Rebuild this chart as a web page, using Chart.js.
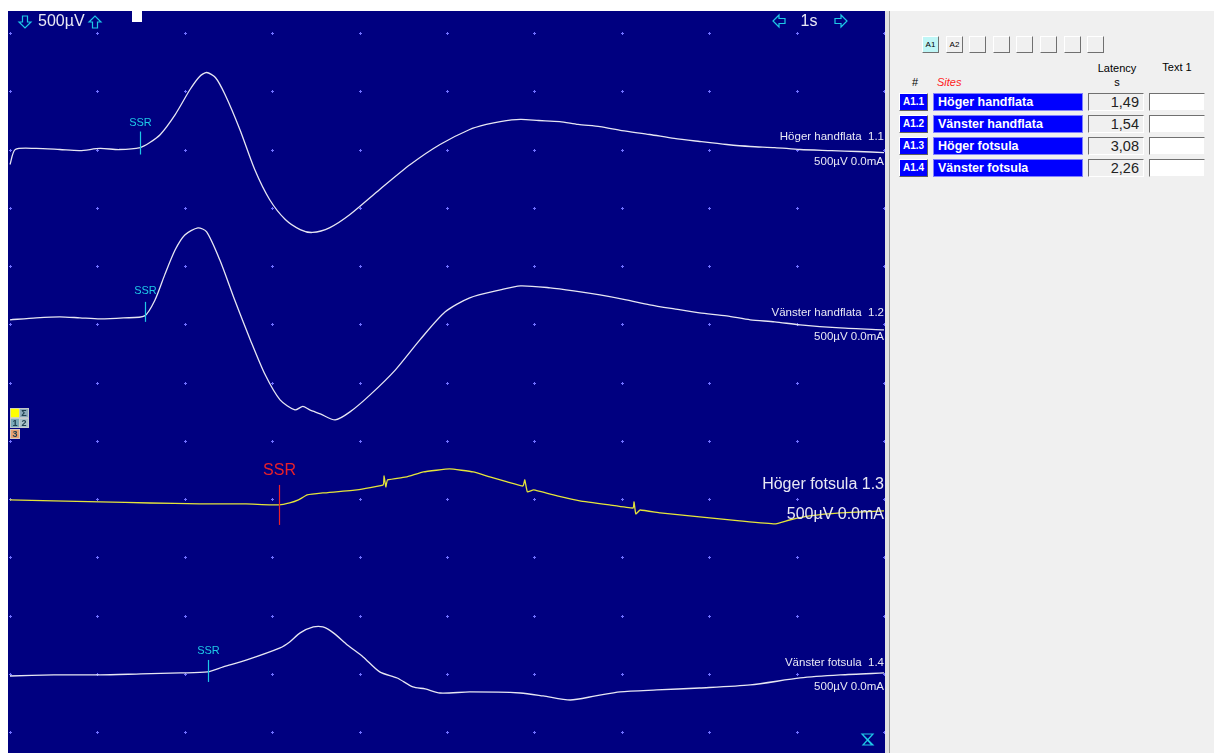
<!DOCTYPE html>
<html><head><meta charset="utf-8">
<script src="https://cdn.jsdelivr.net/npm/chart.js@4"></script>
<style>
html,body{margin:0;padding:0;background:#fff;width:1214px;height:753px;overflow:hidden;font-family:"Liberation Sans",Arial,sans-serif;}
#scope{position:absolute;left:8px;top:11px;width:877px;height:742px;background:#000080;}
#sep{position:absolute;left:885px;top:11px;width:4px;height:742px;background:#e2e2e2;}
#sep2{position:absolute;left:889px;top:11px;width:1px;height:742px;background:#9a9a9a;}
#panel{position:absolute;left:890px;top:11px;width:324px;height:742px;background:#f0f0f0;}
.btn{position:absolute;width:17px;height:17px;box-sizing:border-box;border:1px solid #fff;border-right-color:#707070;border-bottom-color:#707070;background:#f0f0f0;font-size:8px;line-height:15px;text-align:center;color:#000;}
.hdr{position:absolute;font-size:11px;color:#000;text-align:center;}
.rid{position:absolute;left:9px;width:29px;height:18px;box-sizing:border-box;background:#0000ff;color:#fff;font-weight:bold;font-size:10px;line-height:16px;text-align:center;border:1px solid #fff;border-right-color:#606060;border-bottom-color:#606060;}
.rname{position:absolute;left:43px;width:150px;height:18px;box-sizing:border-box;background:#0000ff;color:#fff;font-weight:bold;font-size:12.5px;line-height:17px;padding-left:4px;border:1px solid #8080ff;}
.rlat{position:absolute;left:198px;width:56px;height:18px;box-sizing:border-box;background:#f0f0f0;color:#222;font-size:14.5px;line-height:17px;text-align:right;padding-right:4px;border:1px solid #fff;border-left-color:#707070;border-top-color:#707070;}
.rtxt{position:absolute;left:259px;width:56px;height:18px;box-sizing:border-box;background:#fff;border:1px solid #f0f0f0;border-left-color:#707070;border-top-color:#707070;}
</style></head>
<body>
<div id="scope"><canvas id="c" width="877" height="742"></canvas></div>
<div id="sep"></div><div id="sep2"></div>
<div id="panel"></div>
<script>
// ---------- data ----------
const traceNames = ["Höger handflata", "Vänster handflata", "Höger fotsula", "Vänster fotsula"];
const traceIds = ["1.1", "1.2", "1.3", "1.4"];
const latencies = [1.49, 1.54, 3.08, 2.26];          // s
const baselineOffsets = [5000, 3555, 1975, 490];     // µV (display offset of each trace)
const sensitivity = "500µV";
const timebase = "1s";

// trace 1: Höger handflata (time s, amplitude µV)
const t1 = [0.00,0.06,0.30,0.57,0.80,1.03,1.25,1.49,1.60,1.72,1.89,2.06,2.17,2.25,2.35,2.46,2.63,2.80,2.97,3.15,3.32,3.46,3.66,3.89,4.23,4.58,4.92,5.26,5.45,5.61,5.84,6.05,6.29,6.50,6.75,7.00,7.32,7.60,7.89,8.20,8.47,8.75,9.04,9.40,9.70,10.0];
const v1 = [-129,0,9,0,-9,9,0,17,60,129,300,515,627,661,618,472,172,-172,-429,-601,-687,-712,-670,-558,-343,-129,43,172,215,240,258,249,240,215,197,163,129,95,69,43,26,17,0,-9,-17,-26];
// trace 2: Vänster handflata
const t2 = [0.00,0.30,0.57,0.80,1.03,1.30,1.54,1.66,1.77,1.89,2.00,2.15,2.25,2.40,2.57,2.75,2.92,3.09,3.26,3.35,3.43,3.55,3.72,3.89,4.12,4.41,4.69,4.98,5.26,5.61,5.84,6.18,6.45,6.75,7.05,7.32,7.60,7.89,8.20,8.47,8.75,9.04,9.50,10.0];
const v2 = [-17,0,9,0,-9,0,17,155,369,584,712,773,738,498,155,-189,-489,-704,-790,-760,-790,-824,-876,-807,-661,-446,-189,52,172,240,275,258,232,197,155,112,77,43,17,-17,-34,-60,-86,-103];
// trace 3: Höger fotsula
const t3 = [0.00,0.50,1.03,1.60,2.17,2.70,3.08,3.20,3.30,3.40,3.58,3.97,4.27,4.28,4.30,4.32,4.54,4.73,5.03,5.30,5.49,5.69,5.87,5.89,5.92,5.99,6.26,6.52,6.86,7.13,7.14,7.16,7.21,7.44,7.89,8.35,8.75,8.92,9.15,9.50,10.0];
const v3 = [17,9,0,-9,-17,-17,-26,-9,17,60,77,103,146,223,129,189,215,258,283,258,215,172,137,189,86,103,52,9,-26,-52,0,-103,-69,-94,-129,-163,-189,-155,-120,-94,-77];
// trace 4: Vänster fotsula
const t4 = [0.00,0.50,1.03,1.50,1.95,2.26,2.44,2.71,3.09,3.20,3.32,3.47,3.58,3.70,3.86,4.04,4.23,4.43,4.61,4.75,4.92,5.26,5.84,6.10,6.41,6.70,6.98,7.40,7.89,8.47,9.04,9.50,10.0];
const v4 = [-9,0,0,9,17,26,69,129,232,283,361,412,412,361,258,155,26,-26,-103,-120,-155,-146,-155,-180,-215,-180,-146,-129,-112,-86,-26,0,17];

const times = [t1, t2, t3, t4];
const amps = [v1, v2, v3, v4];
const traceColors = ["#e6e6f2", "#e6e6f2", "#e4e43a", "#e6e6f2"];

// ---------- layout / style (not data) ----------
const labelStyle = [
  {size: 11.5, dy1: -13, dy2: 12},
  {size: 11.5, dy1: -5, dy2: 19},
  {size: 16, dy1: -17, dy2: 13},
  {size: 11.5, dy1: -12, dy2: 12}
];
const ssrStyle = [
  {color: "#1ec8e6", size: 11, top: -18, bottom: 5, ty: -24},
  {color: "#1ec8e6", size: 11, top: -16, bottom: 4, ty: -24},
  {color: "#e8202a", size: 16, top: -17, bottom: 23, ty: -27},
  {color: "#1ec8e6", size: 11, top: -15, bottom: 7, ty: -21}
];

const datasets = times.map((ts, i) => ({
  data: ts.map((t, k) => ({x: t, y: amps[i][k] + baselineOffsets[i]})),
  borderColor: traceColors[i],
  borderWidth: 1.3,
  pointRadius: 0,
  showLine: true,
  tension: i === 2 ? 0.1 : 0.25,
  fill: false
}));

const scopePlugin = {
  id: 'scope',
  beforeDatasetsDraw(chart) {
    const ctx = chart.ctx, xs = chart.scales.x, ys = chart.scales.y;
    ctx.save();
    ctx.fillStyle = "#7070ff";
    for (let t = 0; t <= 10; t++) {
      for (let d = 0; d <= 12; d++) {
        const px = Math.round(xs.getPixelForValue(t)), py = Math.round(ys.getPixelForValue(d * 500));
        ctx.fillRect(px - 1, py, 3, 1);
        ctx.fillRect(px, py - 1, 1, 3);
      }
    }
    ctx.restore();
  },
  afterDatasetsDraw(chart) {
    const ctx = chart.ctx, xs = chart.scales.x, ys = chart.scales.y;
    const W = chart.width;
    ctx.save();
    // SSR markers
    latencies.forEach((lat, i) => {
      const s = ssrStyle[i];
      const px = Math.round(xs.getPixelForValue(lat)) + 0.5;
      const py = ys.getPixelForValue(baselineOffsets[i]);
      ctx.strokeStyle = s.color; ctx.lineWidth = 1.2;
      ctx.beginPath(); ctx.moveTo(px, py + s.top); ctx.lineTo(px, py + s.bottom); ctx.stroke();
      ctx.fillStyle = s.color;
      ctx.font = s.size + 'px "Liberation Sans", Arial, sans-serif';
      ctx.textAlign = 'center'; ctx.textBaseline = 'alphabetic';
      ctx.fillText("SSR", px, py + s.ty);
    });
    // trace labels
    traceNames.forEach((n, i) => {
      const st = labelStyle[i];
      const py = ys.getPixelForValue(baselineOffsets[i]);
      ctx.fillStyle = "#e8e8f4";
      ctx.font = st.size + 'px "Liberation Sans", Arial, sans-serif';
      ctx.textAlign = 'right'; ctx.textBaseline = 'middle';
      ctx.fillText(n + (st.size > 12 ? " " : "  ") + traceIds[i], W - 1, py + st.dy1);
      ctx.fillText(sensitivity + " 0.0mA", W - 1, py + st.dy2);
    });
    // top-left sensitivity
    ctx.font = '16px "Liberation Sans", Arial, sans-serif';
    ctx.textBaseline = 'middle'; ctx.textAlign = 'left';
    ctx.fillStyle = "#e8e8f4";
    ctx.fillText(sensitivity, 30, 11);
    ctx.textAlign = 'center';
    ctx.fillText(timebase, 801, 11);
    // arrows
    ctx.strokeStyle = "#1ec8e6"; ctx.lineWidth = 1.2;
    function arrow(cx, cy, dir) {
      const pts = [[-2.5,-6],[2.5,-6],[2.5,0],[6,0],[0,6],[-6,0],[-2.5,0]];
      ctx.beginPath();
      pts.forEach((p, k) => {
        let x = p[0], y = p[1];
        if (dir === 'up') y = -y;
        if (dir === 'right') { const tx = x; x = y; y = tx; }
        if (dir === 'left') { const tx = x; x = -y; y = tx; }
        if (k === 0) ctx.moveTo(cx + x, cy + y); else ctx.lineTo(cx + x, cy + y);
      });
      ctx.closePath(); ctx.stroke();
    }
    arrow(17, 11, 'down'); arrow(87, 11, 'up');
    arrow(771, 10, 'left'); arrow(833, 10, 'right');
    // white marker
    ctx.fillStyle = "#ffffff"; ctx.fillRect(124, 0, 10, 11);
    // left icons
    ctx.font = 'bold 9px "Liberation Sans", Arial, sans-serif';
    ctx.textAlign = 'center'; ctx.textBaseline = 'middle';
    const icons = [[2, 397, "#ffff00", ""], [11, 397, "#8aa8b8", "Σ"], [2, 407, "#7aaab8", "1"], [11, 407, "#a8c0c8", "2"], [2, 418, "#e8a070", "3"]];
    icons.forEach(ic => {
      ctx.fillStyle = ic[2]; ctx.fillRect(ic[0], ic[1], 10, 10);
      ctx.strokeStyle = "#d0d0d0"; ctx.lineWidth = 0.8; ctx.strokeRect(ic[0] + 0.5, ic[1] + 0.5, 9, 9);
      if (ic[3]) { ctx.fillStyle = "#204050"; ctx.fillText(ic[3], ic[0] + 5, ic[1] + 5.5); }
    });
    // hourglass
    ctx.strokeStyle = "#1ec8e6"; ctx.lineWidth = 1.2;
    ctx.beginPath();
    ctx.moveTo(854, 723); ctx.lineTo(865, 723); ctx.lineTo(855, 734); ctx.lineTo(865, 734); ctx.closePath();
    ctx.moveTo(854, 723); ctx.lineTo(864, 734);
    ctx.stroke();
    ctx.restore();
  }
};

new Chart(document.getElementById('c'), {
  type: 'scatter',
  data: {datasets},
  options: {
    responsive: false,
    animation: false,
    events: [],
    layout: {padding: 0},
    plugins: {legend: {display: false}, tooltip: {enabled: false}},
    scales: {
      x: {type: 'linear', min: -0.0229, max: 10.0114, display: false},
      y: {type: 'linear', min: -180, max: 6189, display: false}
    }
  },
  plugins: [scopePlugin]
});

// ---------- right panel ----------
const panel = document.getElementById('panel');
let html = '';
const btnLabels = ["A1", "A2", "", "", "", "", "", ""];
btnLabels.forEach((b, i) => {
  const left = 32 + Math.round(i * 23.6);
  const bg = i === 0 ? "#bff6f6" : "#f0f0f0";
  html += `<div class="btn" style="left:${left}px;top:25px;background:${bg}">${b}</div>`;
});
html += `<div class="hdr" style="left:20px;top:65px;width:10px;">#</div>`;
html += `<div class="hdr" style="left:47px;top:65px;color:#ff2020;font-style:italic;text-align:left;">Sites</div>`;
html += `<div class="hdr" style="left:197px;top:50px;width:60px;line-height:14px;">Latency<br>s</div>`;
html += `<div class="hdr" style="left:258px;top:50px;width:58px;">Text 1</div>`;
traceNames.forEach((n, i) => {
  const top = 82 + i * 22;
  html += `<div class="rid" style="top:${top}px">A${traceIds[i]}</div>`;
  html += `<div class="rname" style="top:${top}px">${n}</div>`;
  html += `<div class="rlat" style="top:${top}px">${latencies[i].toFixed(2).replace('.', ',')}</div>`;
  html += `<div class="rtxt" style="top:${top}px"></div>`;
});
panel.innerHTML = html;
</script>
</body></html>
